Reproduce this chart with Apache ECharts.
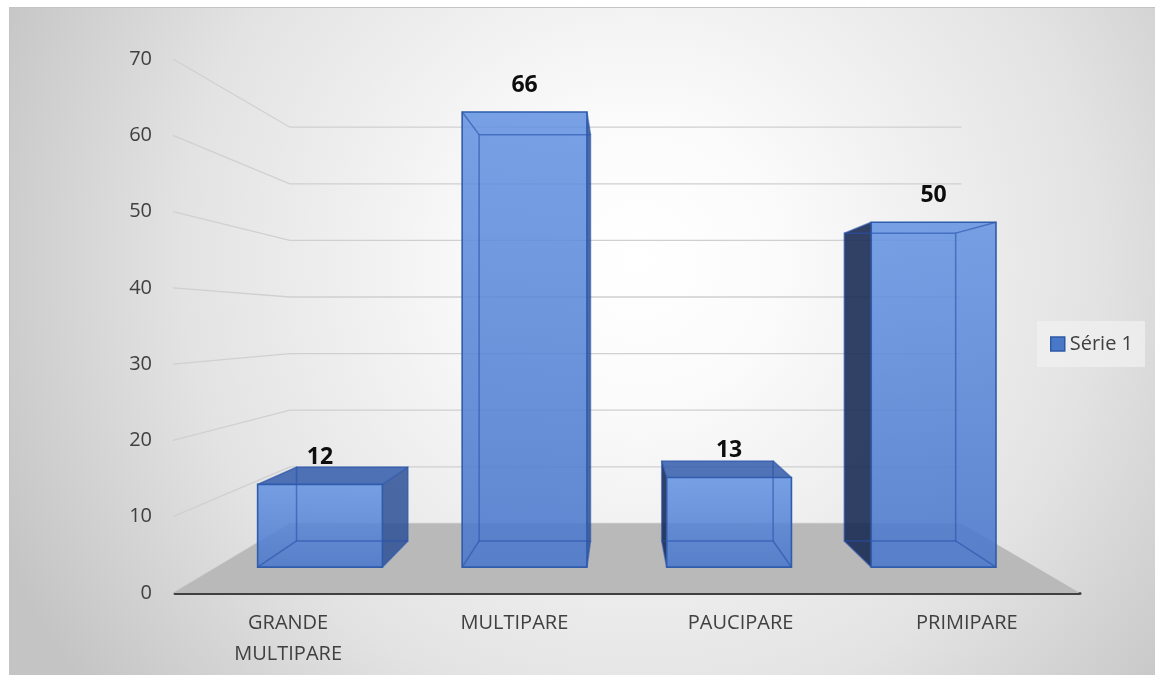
<!DOCTYPE html>
<html>
<head>
<meta charset="utf-8">
<script src="https://cdn.jsdelivr.net/npm/echarts@6/dist/echarts.min.js"></script>
<style>
  html, body { margin: 0; padding: 0; background: #ffffff; }
  #chart { width: 1155px; height: 675px; }
</style>
</head>
<body>
<div id="chart"></div>
<script>
// Data
const categories = ['GRANDE MULTIPARE', 'MULTIPARE', 'PAUCIPARE', 'PRIMIPARE'];
const values = [12, 66, 13, 50];
const yTicks = [0, 10, 20, 30, 40, 50, 60, 70];
const seriesName = 'Série 1';

// Perspective set-up: the grid rectangle is the front plane; everything else
// is scaled toward a vanishing point inside the plot.
const VP_X = 0.492, VP_Y = 0.495;   // vanishing point, fraction of the grid
const WALL = 0.742;                  // depth scale of the back wall
const BAR_FRONT = 0.904;             // depth scale of the bar front faces
const BAR_BACK = 0.807;              // depth scale of the bar back faces
const BAR_HALF = 0.305;              // half bar width, fraction of a band

const FONT = '"Open Sans", "DejaVu Sans", sans-serif';
const TEXT_COLOR = '#404040';

function vanish(cs) {
  return [cs.x + cs.width * VP_X, cs.y + cs.height * VP_Y];
}
function project(vp, x, y, s) {
  return [vp[0] + (x - vp[0]) * s, vp[1] + (y - vp[1]) * s];
}

// Back wall and side wall lines, one per tick value
function renderWall(params, api) {
  const cs = params.coordSys;
  const vp = vanish(cs);
  const t = api.value(1);
  const yf = api.coord([0, t])[1];
  const xL = cs.x, xR = cs.x + cs.width;
  return {
    type: 'polyline',
    shape: { points: [[xL - 2, yf], project(vp, xL, yf, WALL), project(vp, xR, yf, WALL)] },
    style: { stroke: '#d0d0d0', lineWidth: 1.3, fill: null }
  };
}

// Grey floor
function renderFloor(params, api) {
  const cs = params.coordSys;
  const vp = vanish(cs);
  const y0 = api.coord([0, 0])[1];
  const xL = cs.x, xR = cs.x + cs.width;
  return {
    type: 'polygon',
    shape: { points: [[xL - 2, y0], [xR, y0], project(vp, xR, y0, WALL), project(vp, xL, y0, WALL)] },
    style: { fill: '#b9b9b9' }
  };
}

// 3D box for each value
function renderBar(params, api) {
  const cs = params.coordSys;
  const vp = vanish(cs);
  const idx = api.value(0), val = api.value(1);
  const base = api.coord([idx, 0]);
  const top = api.coord([idx, val]);
  const half = api.size([1, 0])[0] * BAR_HALF;
  const xl = base[0] - half, xr = base[0] + half, yb = base[1], yt = top[1];
  const F = [project(vp, xl, yt, BAR_FRONT), project(vp, xr, yt, BAR_FRONT),
             project(vp, xr, yb, BAR_FRONT), project(vp, xl, yb, BAR_FRONT)];
  const B = [project(vp, xl, yt, BAR_BACK), project(vp, xr, yt, BAR_BACK),
             project(vp, xr, yb, BAR_BACK), project(vp, xl, yb, BAR_BACK)];
  const children = [];
  if (xr < vp[0]) {
    children.push({ type: 'polygon', shape: { points: [F[1], B[1], B[2], F[2]] },
      style: { fill: 'rgba(45,80,150,0.85)' } });
  }
  if (xl > vp[0]) {
    children.push({ type: 'polygon', shape: { points: [F[0], B[0], B[3], F[3]] },
      style: { fill: 'rgba(22,40,82,0.88)' } });
  }
  if (yt > vp[1]) {
    children.push({ type: 'polygon', shape: { points: [F[0], F[1], B[1], B[0]] },
      style: { fill: 'rgba(50,90,170,0.85)' } });
  }
  children.push({ type: 'polygon', shape: { points: F },
    style: {
      fill: {
        type: 'linear', x: 0, y: 0, x2: 0, y2: 1,
        colorStops: [
          { offset: 0, color: 'rgba(98,146,226,0.86)' },
          { offset: 1, color: 'rgba(74,120,204,0.88)' }
        ]
      }
    } });
  // edges seen through the faces
  const hidden = { stroke: 'rgba(38,82,170,0.6)', lineWidth: 1.5, fill: null };
  children.push({ type: 'polygon', shape: { points: B }, style: hidden });
  for (let i = 0; i < 4; i++) {
    children.push({ type: 'line',
      shape: { x1: F[i][0], y1: F[i][1], x2: B[i][0], y2: B[i][1] }, style: hidden });
  }
  children.push({ type: 'polygon', shape: { points: F },
    style: { stroke: '#2f5cab', lineWidth: 1.6, fill: null } });
  const lp = project(vp, base[0], yt, BAR_FRONT);
  children.push({ type: 'text',
    style: {
      text: String(val), x: lp[0], y: lp[1] - 27,
      align: 'center', verticalAlign: 'middle',
      fill: '#0d0d0d', fontSize: 23, fontWeight: 'bold', fontFamily: FONT
    } });
  return { type: 'group', children: children };
}

const chart = echarts.init(document.getElementById('chart'), null, { renderer: 'canvas' });

chart.setOption({
  animation: false,
  backgroundColor: '#ffffff',
  graphic: [
    {
      type: 'rect', z: -100, silent: true,
      shape: { x: 9, y: 7, width: 1146, height: 668 },
      style: {
        fill: {
          type: 'radial', x: 0.55, y: 0.38, r: 1.05,
          colorStops: [
            { offset: 0, color: '#ffffff' },
            { offset: 0.2, color: '#fbfbfb' },
            { offset: 0.65, color: '#e3e3e3' },
            { offset: 1, color: '#c4c4c4' }
          ]
        }
      }
    },
    {
      type: 'polyline', z: -99, silent: true,
      shape: { points: [[9.5, 675], [9.5, 7.5], [1155, 7.5]] },
      style: { stroke: '#c4c4c4', lineWidth: 1, fill: null }
    }
  ],
  grid: { left: 175, right: 75, top: 59, bottom: 82 },
  legend: {
    left: 1037, top: 321,
    padding: [13, 12, 13, 13],
    backgroundColor: 'rgba(240,240,240,0.75)',
    itemWidth: 14, itemHeight: 14,
    data: [{
      name: seriesName, icon: 'rect',
      itemStyle: { color: '#4a78c8', borderColor: '#2c58a6', borderWidth: 1.5 }
    }],
    textStyle: { color: TEXT_COLOR, fontSize: 20, fontFamily: FONT }
  },
  xAxis: {
    type: 'category',
    data: categories,
    axisLine: { show: true, lineStyle: { color: '#404040', width: 3 } },
    axisTick: { show: false },
    splitLine: { show: false },
    axisLabel: {
      color: TEXT_COLOR, fontSize: 20, fontFamily: FONT, margin: 15, lineHeight: 31,
      formatter: v => v.replace(' ', '\n')
    }
  },
  yAxis: {
    type: 'value',
    min: 0, max: 70, interval: 10,
    axisLine: { show: false },
    axisTick: { show: false },
    splitLine: { show: false },
    axisLabel: { color: TEXT_COLOR, fontSize: 20, fontFamily: FONT, margin: 23 }
  },
  series: [
    {
      type: 'custom', name: 'wall', silent: true, z: 1,
      renderItem: renderWall,
      data: yTicks.map(t => [0, t])
    },
    {
      type: 'custom', name: 'floor', silent: true, z: 2,
      renderItem: renderFloor,
      data: [[0, 0]]
    },
    {
      type: 'custom', name: seriesName, z: 3,
      itemStyle: { color: '#4a78c8' },
      renderItem: renderBar,
      data: values.map((v, i) => [i, v])
    }
  ]
});
</script>
</body>
</html>
